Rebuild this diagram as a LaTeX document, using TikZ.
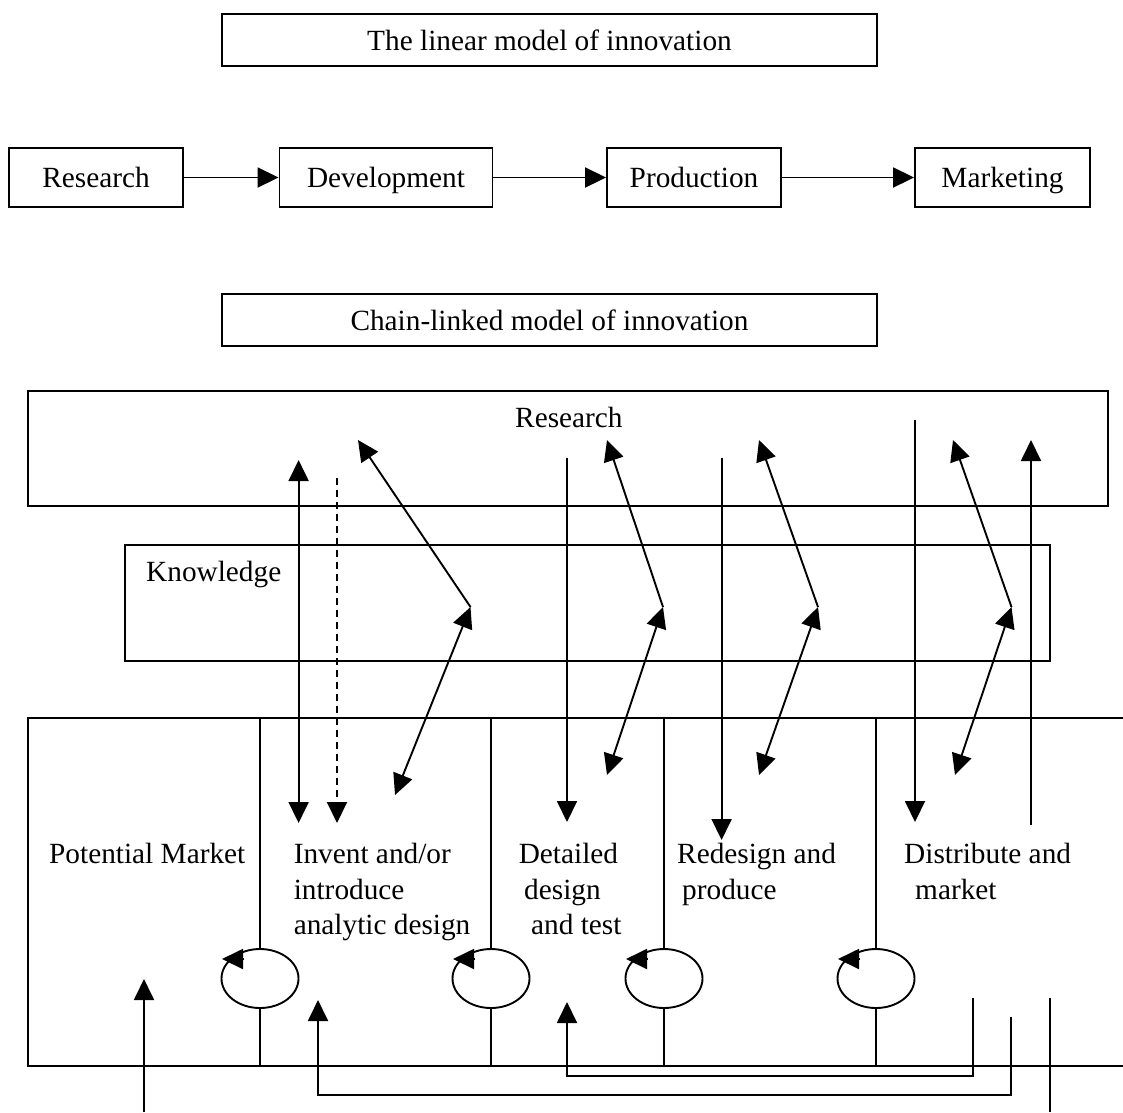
\documentclass[tikz,border=0pt]{standalone}
\usepackage{fontspec}
\setmainfont{Liberation Serif}
\usetikzlibrary{arrows.meta,shapes.geometric,calc}
\begin{document}
\begin{tikzpicture}[x=1pt,y=-1pt,
  every node/.style={font=\fontsize{29.3}{35}\selectfont},
  ln/.style={line width=1.9pt},
  box/.style={draw, line width=1.9pt, inner sep=0pt, text height=24pt, text depth=4pt},
  txt/.style={anchor=base west, inner sep=0pt},
  arr/.style={ln, -{Triangle[length=21pt 0 0,width=20pt 0 0]}},
  dbl/.style={ln, {Triangle[length=21pt 0 0,width=20pt 0 0]}-{Triangle[length=21pt 0 0,width=20pt 0 0]}},
  loopnode/.style={draw, ellipse, line width=1.9pt, minimum width=77pt, minimum height=59pt, inner sep=0pt}
]
\useasboundingbox (0,0) rectangle (1123,1112);

% ---- linear model ----
\node[box, minimum width=655pt, minimum height=52pt] (lintitle) at (549.5,40) {The linear model of innovation};
\node[box, minimum width=174pt, minimum height=59pt] (r1) at (96,177.5) {Research};
\node[box, minimum width=213pt, minimum height=59pt] (d1) at (386,177.5) {Development};
\node[box, minimum width=174pt, minimum height=59pt] (p1) at (694,177.5) {Production};
\node[box, minimum width=175pt, minimum height=59pt] (m1) at (1002.5,177.5) {Marketing};
\draw[arr] (r1) -- (d1);
\draw[arr] (d1) -- (p1);
\draw[arr] (p1) -- (m1);

% ---- chain-linked model ----
\node[box, minimum width=655pt, minimum height=52pt] (chaintitle) at (549.5,320) {Chain-linked model of innovation};

\node[box, minimum width=1080pt, minimum height=115pt] (resbox) at (568,448.5) {};
\node[txt] (restext) at (515,427) {Research};
\node[box, minimum width=925pt, minimum height=116pt] (knowbox) at (587.5,603) {};
\node[txt] (knowtext) at (146,581.5) {Knowledge};

% bottom box (open on the right)
\draw[ln] (1123,718) -- (28,718) -- (28,1066) -- (1123,1066);

% loops and dividers
\foreach \cx/\n in {260/1,491/2,664/3,876/4}{
  \node[loopnode] (loop\n) at (\cx,978.5) {};
  \draw[ln] (loop\n.north) -- (\cx,718);
  \draw[ln] (loop\n.south) -- (\cx,1066);
  \draw[arr] ($(loop\n.center)+(-16,-19.5)$) -- ($(loop\n.center)+(-38,-19.5)$);
}

% stage texts
\node[txt] (pm) at (49,863) {Potential Market};
\node[txt] (inv1) at (293.6,863) {Invent and/or};
\node[txt] (inv2) at (293.6,899) {introduce};
\node[txt] (inv3) at (293.6,934) {analytic design};
\node[txt] (det1) at (518.6,863) {Detailed};
\node[txt] (det2) at (524,899) {design};
\node[txt] (det3) at (531,934) {and test};
\node[txt] (red1) at (677,863) {Redesign and};
\node[txt] (red2) at (682,899) {produce};
\node[txt] (dis1) at (904,863) {Distribute and};
\node[txt] (dis2) at (915,899) {market};

% vertical links
\coordinate (v1t) at (298.6,460); \coordinate (v1b) at (298.6,823);
\draw[dbl] (v1b) -- (v1t);
\coordinate (v2t) at (337,478); \coordinate (v2b) at (337,823);
\draw[arr, dashed, dash pattern=on 7pt off 5pt] (v2t) -- (v2b);
\coordinate (v3t) at (567,458); \coordinate (v3b) at (567,822);
\draw[arr] (v3t) -- (v3b);
\coordinate (v4t) at (721.6,458); \coordinate (v4b) at (721.6,840);
\draw[arr] (v4t) -- (v4b);
\coordinate (v5t) at (915,420); \coordinate (v5b) at (915,822);
\draw[arr] (v5t) -- (v5b);
\coordinate (v6t) at (1031,440); \coordinate (v6b) at (1031,825);
\draw[arr] (v6b) -- (v6t);

% diagonal research-knowledge-stage links
\foreach \rx/\vx/\bx/\by/\n in {358/470.5/395/795/1, 607/663/607/775/2, 759/818/759/775/3, 953/1011.5/955/775/4}{
  \coordinate (dr\n) at (\rx,440);
  \coordinate (dv\n) at (\vx,607);
  \coordinate (db\n) at (\bx,\by);
  \draw[arr] (dv\n) -- (dr\n);
  \draw[dbl] (db\n) -- (dv\n);
}

% feedback links at the bottom
\coordinate (f1s) at (973,998); \coordinate (f1e) at (567,1002);
\draw[arr] (f1s) -- ++(0,78) -| (f1e);
\coordinate (f2s) at (1011,1017); \coordinate (f2e) at (318,1000);
\draw[arr] (f2s) -- ++(0,78) -| (f2e);
\coordinate (f3s) at (1050,998); \coordinate (f3e) at (1050,1112);
\draw[ln] (f3s) -- (f3e);
\coordinate (pmb) at (144,1112); \coordinate (pmt) at (144,979);
\draw[arr] (pmb) -- (pmt);
\end{tikzpicture}
\end{document}
